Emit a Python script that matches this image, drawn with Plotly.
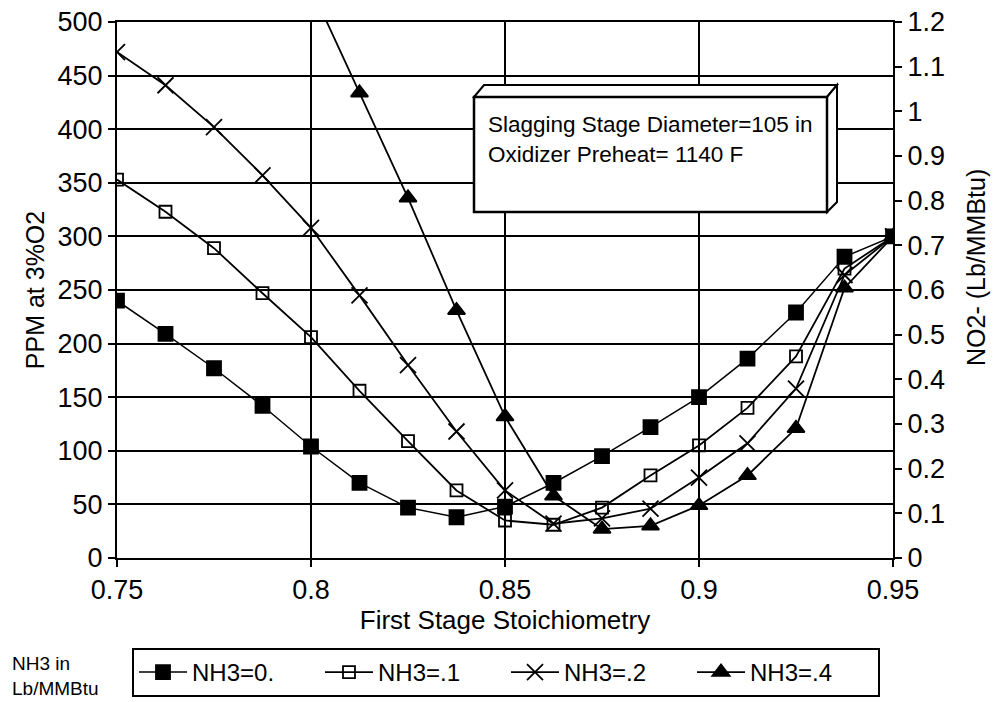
import plotly.graph_objects as go

# ---- data ----
stoich = [0.75, 0.7625, 0.775, 0.7875, 0.8, 0.8125, 0.825, 0.8375, 0.85,
          0.8625, 0.875, 0.8875, 0.9, 0.9125, 0.925, 0.9375, 0.95]
nh3_0 = [240, 209, 177, 142, 104, 70, 47, 38, 48, 70, 95, 122, 150, 186, 229, 281, 300]
nh3_1 = [353, 323, 289, 247, 206, 156, 109, 63, 35, 31, 47, 77, 105, 140, 188, 270, 300]
nh3_2 = [472, 441, 402, 357, 308, 245, 180, 118, 63, 32, 37, 46, 75, 107, 158, 264, 300]
nh3_4 = [None, None, None, None, 532, 434, 336, 231, 132, 58, 27, 30, 49, 77, 121, 252, 300]

series_names = ["NH3=0.", "NH3=.1", "NH3=.2", "NH3=.4"]
x_ticks = [0.75, 0.8, 0.85, 0.9, 0.95]
y_ticks = list(range(0, 501, 50))
y2_ticks = [0, 0.1, 0.2, 0.3, 0.4, 0.5, 0.6, 0.7, 0.8, 0.9, 1, 1.1, 1.2]
y2_ticktext = ["0", "0.1", "0.2", "0.3", "0.4", "0.5", "0.6", "0.7", "0.8", "0.9", "1", "1.1", "1.2"]

FONT = "Liberation Sans, Arial, Helvetica, sans-serif"

fig = go.Figure()
styles = [
    dict(symbol="square", size=14, lw=1.5),
    dict(symbol="square-open", size=12, lw=1.8),
    dict(symbol="x-thin-open", size=16, lw=1.8),
    dict(symbol="triangle-up", size=15, lw=1.8),
]
for name, vals, st in zip(series_names, [nh3_0, nh3_1, nh3_2, nh3_4], styles):
    fig.add_trace(go.Scatter(
        x=stoich, y=vals, name=name, mode="lines+markers",
        line=dict(color="black", width=st["lw"]),
        marker=dict(symbol=st["symbol"], size=st["size"], color="black",
                    line=dict(color="black", width=1.8)),
        connectgaps=False,
    ))

# invisible trace to activate the right-hand axis
fig.add_trace(go.Scatter(x=[stoich[0]], y=[None], yaxis="y2", showlegend=False,
                         hoverinfo="skip", mode="lines"))

def px_x(p):
    return (p - 117) / 776.0

def px_y(p):
    return (558 - p) / 536.0

# 3D annotation box
shapes = [
    dict(type="path", xref="paper", yref="paper", layer="above",
         path=f"M {px_x(474)},{px_y(97)} L {px_x(484)},{px_y(85)} L {px_x(837)},{px_y(85)} L {px_x(827)},{px_y(97)} Z",
         fillcolor="white", line=dict(color="black", width=2)),
    dict(type="path", xref="paper", yref="paper", layer="above",
         path=f"M {px_x(827)},{px_y(97)} L {px_x(837)},{px_y(85)} L {px_x(837)},{px_y(202)} L {px_x(827)},{px_y(212)} Z",
         fillcolor="white", line=dict(color="black", width=2)),
    dict(type="rect", xref="paper", yref="paper", layer="above",
         x0=px_x(474), x1=px_x(827), y0=px_y(212), y1=px_y(97),
         fillcolor="white", line=dict(color="black", width=2.5)),
]

annotations = [
    dict(text="Slagging Stage Diameter=105 in", xref="paper", yref="paper",
         x=px_x(486), y=px_y(125), xanchor="left", yanchor="middle",
         showarrow=False, font=dict(size=22.5, color="black", family=FONT)),
    dict(text="Oxidizer Preheat= 1140 F", xref="paper", yref="paper",
         x=px_x(486), y=px_y(155), xanchor="left", yanchor="middle",
         showarrow=False, font=dict(size=22.5, color="black", family=FONT)),
    dict(text="NO2- (Lb/MMBtu)", xref="paper", yref="paper",
         x=px_x(976), y=px_y(268), xanchor="center", yanchor="middle",
         textangle=-90, showarrow=False, font=dict(size=25, color="black", family=FONT)),
    dict(text="NH3 in<br>Lb/MMBtu", xref="paper", yref="paper",
         x=px_x(10), y=px_y(676), xanchor="left", yanchor="middle", align="left",
         showarrow=False, font=dict(size=19, color="black", family=FONT)),
]

fig.update_layout(
    width=994, height=702,
    margin=dict(l=117, r=101, t=22, b=144, autoexpand=False),
    paper_bgcolor="white", plot_bgcolor="white",
    font=dict(family=FONT, color="black", size=24),
    shapes=shapes, annotations=annotations,
    xaxis=dict(
        range=[0.75, 0.95], tickvals=x_ticks, ticktext=[str(v) for v in x_ticks],
        showgrid=True, gridcolor="black", gridwidth=1.5,
        showline=True, linecolor="black", linewidth=2, mirror=True,
        ticks="outside", ticklen=7, tickwidth=2, tickcolor="black",
        tickfont=dict(size=27), zeroline=False,
        title=dict(text="First Stage Stoichiometry", font=dict(size=26), standoff=6),
    ),
    yaxis=dict(
        range=[0, 500], tickvals=y_ticks,
        showgrid=True, gridcolor="black", gridwidth=2,
        showline=True, linecolor="black", linewidth=2,
        ticks="outside", ticklen=7, tickwidth=2, tickcolor="black",
        tickfont=dict(size=27), zeroline=False,
        title=dict(text="PPM at 3%O2", font=dict(size=25), standoff=6),
    ),
    yaxis2=dict(
        overlaying="y", side="right", anchor="x",
        range=[0, 1.2], tickvals=y2_ticks, ticktext=y2_ticktext,
        showgrid=False, showline=True, linecolor="black", linewidth=2,
        ticks="outside", ticklen=7, tickwidth=2, tickcolor="black",
        tickfont=dict(size=27), zeroline=False,
    ),
    legend=dict(
        orientation="h", x=px_x(132), y=px_y(648), xanchor="left", yanchor="top",
        bordercolor="black", borderwidth=2, bgcolor="white",
        font=dict(size=24, family=FONT, color="black"),
        itemwidth=48, entrywidth=123, entrywidthmode="pixels",
    ),
    showlegend=True,
)

fig.write_html("out.html")
